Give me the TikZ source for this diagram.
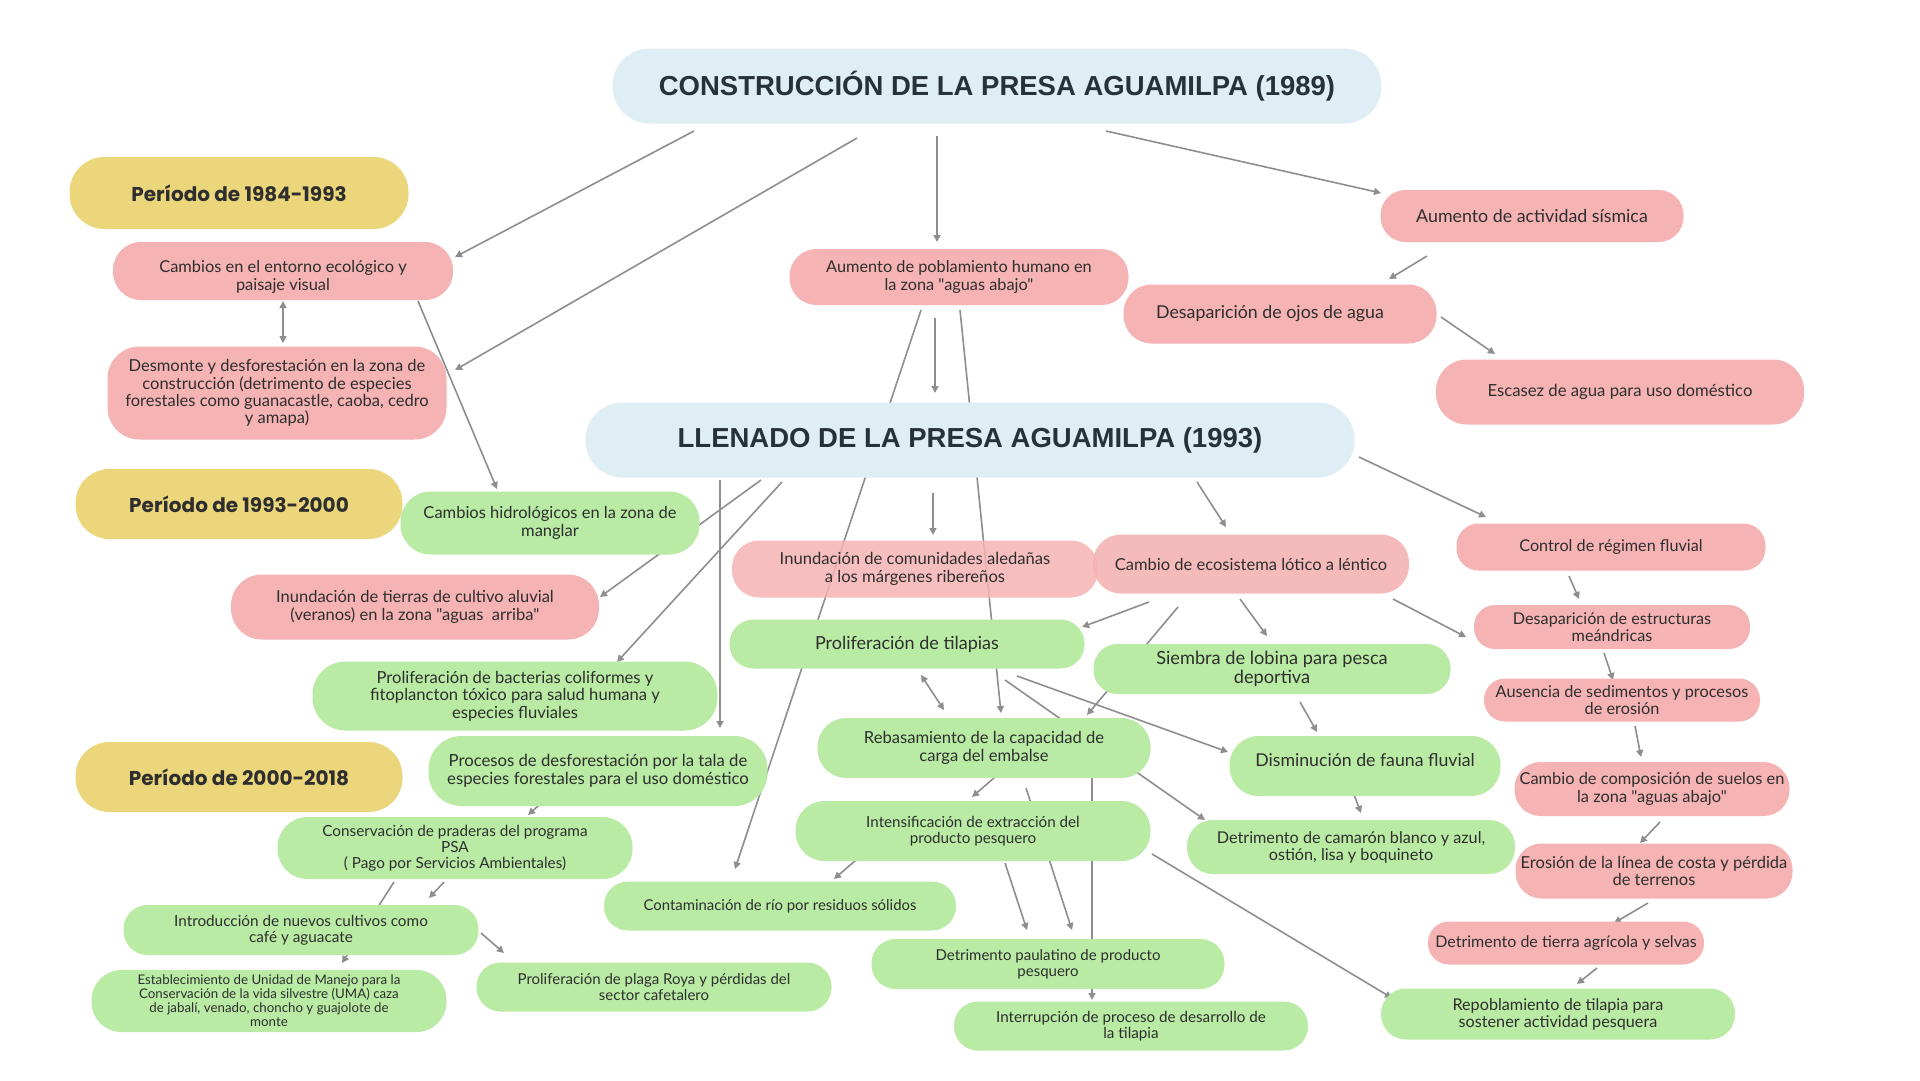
\documentclass[tikz,border=0pt]{standalone}
\usepackage{fontspec}
\setmainfont{Lato}[Ligatures=TeXOff]
\newfontfamily\titlefont{Liberation Sans}
\newfontfamily\perfont{Poppins}
\usetikzlibrary{arrows.meta}
\definecolor{tblue}{HTML}{DFEEF4}
\definecolor{yel}{HTML}{EBD67B}
\definecolor{pinkc}{HTML}{F5B3B3}
\definecolor{grnc}{HTML}{B9EBA5}
\definecolor{txt}{HTML}{2E2E2E}
\definecolor{ttxt}{HTML}{263238}
\definecolor{linec}{HTML}{8E8E8E}
\pgfdeclarelayer{bg}
\pgfdeclarelayer{paper}
\pgfsetlayers{paper,bg,main}
\newcommand{\fs}[1]{\fontsize{#1pt}{\dimexpr #1pt*105/100\relax}\selectfont}
\tikzset{
  base/.style={align=center, inner sep=0pt, text=txt},
  pinknode/.style={base, fill=pinkc},
  grnnode/.style={base, fill=grnc},
  titlenode/.style={base, fill=tblue, text=ttxt, font=\titlefont\bfseries\fontsize{27.5}{30}\selectfont},
  pernode/.style={base, fill=yel, text=txt, font=\perfont\bfseries\fontsize{20}{22}\selectfont},
  sz/.style n args={3}{minimum width=#1pt, minimum height=#2pt, rounded corners=#3pt},
  arr/.style={draw=linec, line width=1.6pt, -{Triangle[length=7pt,width=7pt]}},
  darr/.style={draw=linec, line width=1.6pt, {Triangle[length=7pt,width=7pt]}-{Triangle[length=7pt,width=7pt]}},
}
\begin{document}
\begin{tikzpicture}[x=1pt,y=-1pt]
\useasboundingbox (0,0) rectangle (1920,1080);
\begin{pgfonlayer}{paper}
\fill[white] (0,0) rectangle (1920,1080);
\end{pgfonlayer}

% titles
\node[titlenode, sz={769}{75}{37}] (t1) at (997,86) {CONSTRUCCIÓN DE LA PRESA AGUAMILPA (1989)};
\node[titlenode, sz={769}{75}{37}] (t2) at (970,440) {LLENADO DE LA PRESA AGUAMILPA (1993)};

% periods
\node[pernode, sz={339}{72}{35}] (p1) at (239,193) {Período de 1984-1993};
\node[pernode, sz={327}{70}{34}] (p2) at (239,504) {Período de 1993-2000};
\node[pernode, sz={327}{70}{34}] (p3) at (239,777) {Período de 2000-2018};

% pink nodes
\node[pinknode, sz={340}{58}{28}, font=\fs{16.4}] (r1) at (283,271) {\rule{0pt}{24pt}Cambios en el entorno ecológico y\\paisaje visual};
\node[pinknode, sz={339}{93}{32}, font=\fs{16.5}] (r2) at (277,393) {Desmonte y desforestación en la zona de\\construcción (detrimento de especies\\forestales como guanacastle, caoba, cedro\\y amapa)};
\node[pinknode, sz={339}{56}{27}, font=\fs{16.3}] (r3) at (959,277) {Aumento de poblamiento humano en\\la zona "aguas abajo"};
\node[pinknode, sz={303}{52}{25}, font=\fs{17.8}] (r4) at (1532,216) {Aumento de actividad sísmica};
\node[pinknode, sz={313}{59}{28}, font=\fs{17.8}] (r5) at (1280,314) {Desaparición de ojos de agua\hspace*{20pt}};
\node[pinknode, sz={368}{65}{31}, font=\fs{16.7}] (r6) at (1620,392) {Escasez de agua para uso doméstico};
\node[pinknode, sz={368}{65}{31}, font=\fs{16.5}] (r7) at (415,607) {Inundación de tierras de cultivo aluvial\\(veranos) en la zona "aguas\ \ arriba"};
\node[pinknode, sz={366}{57}{27}, font=\fs{16.6}, fill opacity=0.85, text opacity=1] (r8) at (915,569) {Inundación de comunidades aledañas\\a los márgenes ribereños};
\node[pinknode, sz={316}{59}{28}, font=\fs{16.5}, fill opacity=0.9, text opacity=1] (r9) at (1251,564) {Cambio de ecosistema lótico a léntico};
\node[pinknode, sz={309}{47}{22}, font=\fs{16.2}] (r10) at (1611,547) {Control de régimen fluvial};
\node[pinknode, sz={276}{44}{21}, font=\fs{16.2}] (r11) at (1612,627) {Desaparición de estructuras\\meándricas};
\node[pinknode, sz={276}{43}{21}, font=\fs{16.3}] (r12) at (1622,700) {Ausencia de sedimentos y procesos\\de erosión};
\node[pinknode, sz={275}{54}{26}, font=\fs{16.4}] (r13) at (1652,789) {Cambio de composición de suelos en\\la zona "aguas abajo"};
\node[pinknode, sz={277}{55}{26}, font=\fs{16.5}] (r14) at (1654,871) {Erosión de la línea de costa y pérdida\\de terrenos};
\node[pinknode, sz={276}{43}{21}, font=\fs{16}] (r15) at (1566,943) {Detrimento de tierra agrícola y selvas};

% green nodes
\node[grnnode, sz={299}{63}{30}, font=\fs{16.5}] (g1) at (550,523) {Cambios hidrológicos en la zona de\\manglar};
\node[grnnode, sz={405}{69}{33}, font=\fs{16.6}] (g2) at (515,696) {Proliferación de bacterias coliformes y\\fitoplancton tóxico para salud humana y\\especies fluviales};
\node[grnnode, sz={339}{70}{33}, font=\fs{16.7}] (g3) at (598,771) {Procesos de desforestación por la tala de\\especies forestales para el uso doméstico};
\node[grnnode, sz={355}{62}{30}, font=\fs{15.3}] (g4) at (455,848) {Conservación de praderas del programa\\PSA\\( Pago por Servicios Ambientales)};
\node[grnnode, sz={355}{50}{24}, font=\fs{15.3}] (g5) at (301,930) {Introducción de nuevos cultivos como\\café y aguacate};
\node[grnnode, sz={355}{62}{30}, font=\fs{13.3}] (g6) at (269,1001) {Establecimiento de Unidad de Manejo para la\\Conservación de la vida silvestre (UMA) caza\\de jabalí, venado, choncho y guajolote de\\monte};
\node[grnnode, sz={355}{49}{24}, font=\fs{15}] (g7) at (654,987) {Proliferación de plaga Roya y pérdidas del\\sector cafetalero};
\node[grnnode, sz={355}{49}{24}, font=\fs{18}] (g8) at (907,644) {Proliferación de tilapias};
\node[grnnode, sz={357}{50}{24}, font=\fs{18.2}] (g9) at (1272,669) {Siembra de lobina para pesca\\deportiva};
\node[grnnode, sz={333}{60}{29}, font=\fs{16.6}] (g10) at (984,748) {Rebasamiento de la capacidad de\\carga del embalse};
\node[grnnode, sz={271}{60}{29}, font=\fs{17.7}] (g11) at (1365,766) {Disminución de fauna fluvial\rule[-13pt]{0pt}{0pt}};
\node[grnnode, sz={355}{60}{29}, font=\fs{15.2}] (g12) at (973,831) {Intensificación de extracción del\\producto pesquero};
\node[grnnode, sz={328}{54}{26}, font=\fs{16.2}] (g13) at (1351,847) {Detrimento de camarón blanco y azul,\\ostión, lisa y boquineto};
\node[grnnode, sz={352}{49}{24}, font=\fs{14.9}] (g14) at (780,906) {Contaminación de río por residuos sólidos};
\node[grnnode, sz={353}{50}{24}, font=\fs{15}] (g15) at (1048,964) {Detrimento paulatino de producto\\pesquero};
\node[grnnode, sz={354}{49}{24}, font=\fs{15.2}] (g16) at (1131,1026) {Interrupción de proceso de desarrollo de\\la tilapia};
\node[grnnode, sz={354}{51}{25}, font=\fs{16.2}] (g17) at (1558,1014) {Repoblamiento de tilapia para\\sostener actividad pesquera};

\begin{pgfonlayer}{bg}
\draw[arr] ([shift={(-303,45)}]t1.center) -- ([shift={(172,-14)}]r1.center);
\draw[arr] ([shift={(-140,52)}]t1.center) -- ([shift={(178,-23)}]r2.center);
\draw[arr] ([shift={(-60,50)}]t1.center) -- ([shift={(-22,-35)}]r3.center);
\draw[arr] ([shift={(109,45)}]t1.center) -- ([shift={(-151,-23)}]r4.center);
\draw[darr] ([shift={(0,30)}]r1.center) -- ([shift={(6,-50)}]r2.center);
\draw[arr] ([shift={(135,30)}]r1.center) -- ([shift={(-53,-34)}]g1.center);
\draw[arr] ([shift={(-105,40)}]r4.center) -- ([shift={(109,-35)}]r5.center);
\draw[arr] ([shift={(161,3)}]r5.center) -- ([shift={(-125,-38)}]r6.center);
\draw[arr] ([shift={(-24,41)}]r3.center) -- ([shift={(-35,-47)}]t2.center);
\draw[arr] ([shift={(-38,33)}]r3.center) -- ([shift={(-45,-37)}]g14.center);
\draw[arr] ([shift={(1,33)}]r3.center) -- ([shift={(17,-35)}]g10.center);
\draw[arr] ([shift={(-250,40)}]t2.center) -- ([shift={(122,-43)}]g3.center);
\draw[arr] ([shift={(-209,40)}]t2.center) -- ([shift={(185,-10)}]r7.center);
\draw[arr] ([shift={(-188,42)}]t2.center) -- ([shift={(102,-34)}]g2.center);
\draw[arr] ([shift={(-37,53)}]t2.center) -- ([shift={(18,-34)}]r8.center);
\draw[arr] ([shift={(227,42)}]t2.center) -- ([shift={(-25,-37)}]r9.center);
\draw[arr] ([shift={(389,17)}]t2.center) -- ([shift={(-125,-30)}]r10.center);
\draw[arr] ([shift={(-102,38)}]r9.center) -- ([shift={(175,-17)}]g8.center);
\draw[arr] ([shift={(-73,43)}]r9.center) -- ([shift={(103,-33)}]g10.center);
\draw[arr] ([shift={(-11,35)}]r9.center) -- ([shift={(-5,-33)}]g9.center);
\draw[arr] ([shift={(142,35)}]r9.center) -- ([shift={(-146,10)}]r11.center);
\draw[arr] ([shift={(-42,29)}]r10.center) -- ([shift={(-33,-28)}]r11.center);
\draw[arr] ([shift={(-8,26)}]r11.center) -- ([shift={(-9,-20)}]r12.center);
\draw[arr] ([shift={(13,26)}]r12.center) -- ([shift={(-11,-32)}]r13.center);
\draw[arr] ([shift={(8,33)}]r13.center) -- ([shift={(-14,-28)}]r14.center);
\draw[arr] ([shift={(-6,32)}]r14.center) -- ([shift={(48,-20)}]r15.center);
\draw[arr] ([shift={(31,25)}]r15.center) -- ([shift={(19,-30)}]g17.center);
\draw[arr] ([shift={(28,33)}]g9.center) -- ([shift={(-48,-34)}]g11.center);
\draw[arr] ([shift={(-12,26)}]g11.center) -- ([shift={(10,-34)}]g13.center);
\draw[arr] ([shift={(98,36)}]g8.center) -- ([shift={(-146,-27)}]g13.center);
\draw[arr] ([shift={(110,32)}]g8.center) -- ([shift={(-137,-14)}]g11.center);
\draw[darr] ([shift={(14,31)}]g8.center) -- ([shift={(-40,-38)}]g10.center);
\draw[arr] ([shift={(11,29)}]g10.center) -- ([shift={(-1,-34)}]g12.center);
\draw[arr] ([shift={(42,40)}]g10.center) -- ([shift={(24,-34)}]g15.center);
\draw[arr] ([shift={(32,32)}]g12.center) -- ([shift={(-21,-34)}]g15.center);
\draw[arr] ([shift={(108,30)}]g10.center) -- ([shift={(-39,-26)}]g16.center);
\draw[arr] ([shift={(-117,29)}]g12.center) -- ([shift={(54,-27)}]g14.center);
\draw[arr] ([shift={(179,23)}]g12.center) -- ([shift={(-166,-16)}]g17.center);
\draw[arr] ([shift={(-50,26)}]g3.center) -- ([shift={(73,-33)}]g4.center);
\draw[arr] ([shift={(-11,34)}]g4.center) -- ([shift={(128,-32)}]g5.center);
\draw[arr] ([shift={(-61,34)}]g4.center) -- ([shift={(73,-38)}]g6.center);
\draw[arr] ([shift={(180,3)}]g5.center) -- ([shift={(-150,-34)}]g7.center);
\end{pgfonlayer}
\end{tikzpicture}
\end{document}
